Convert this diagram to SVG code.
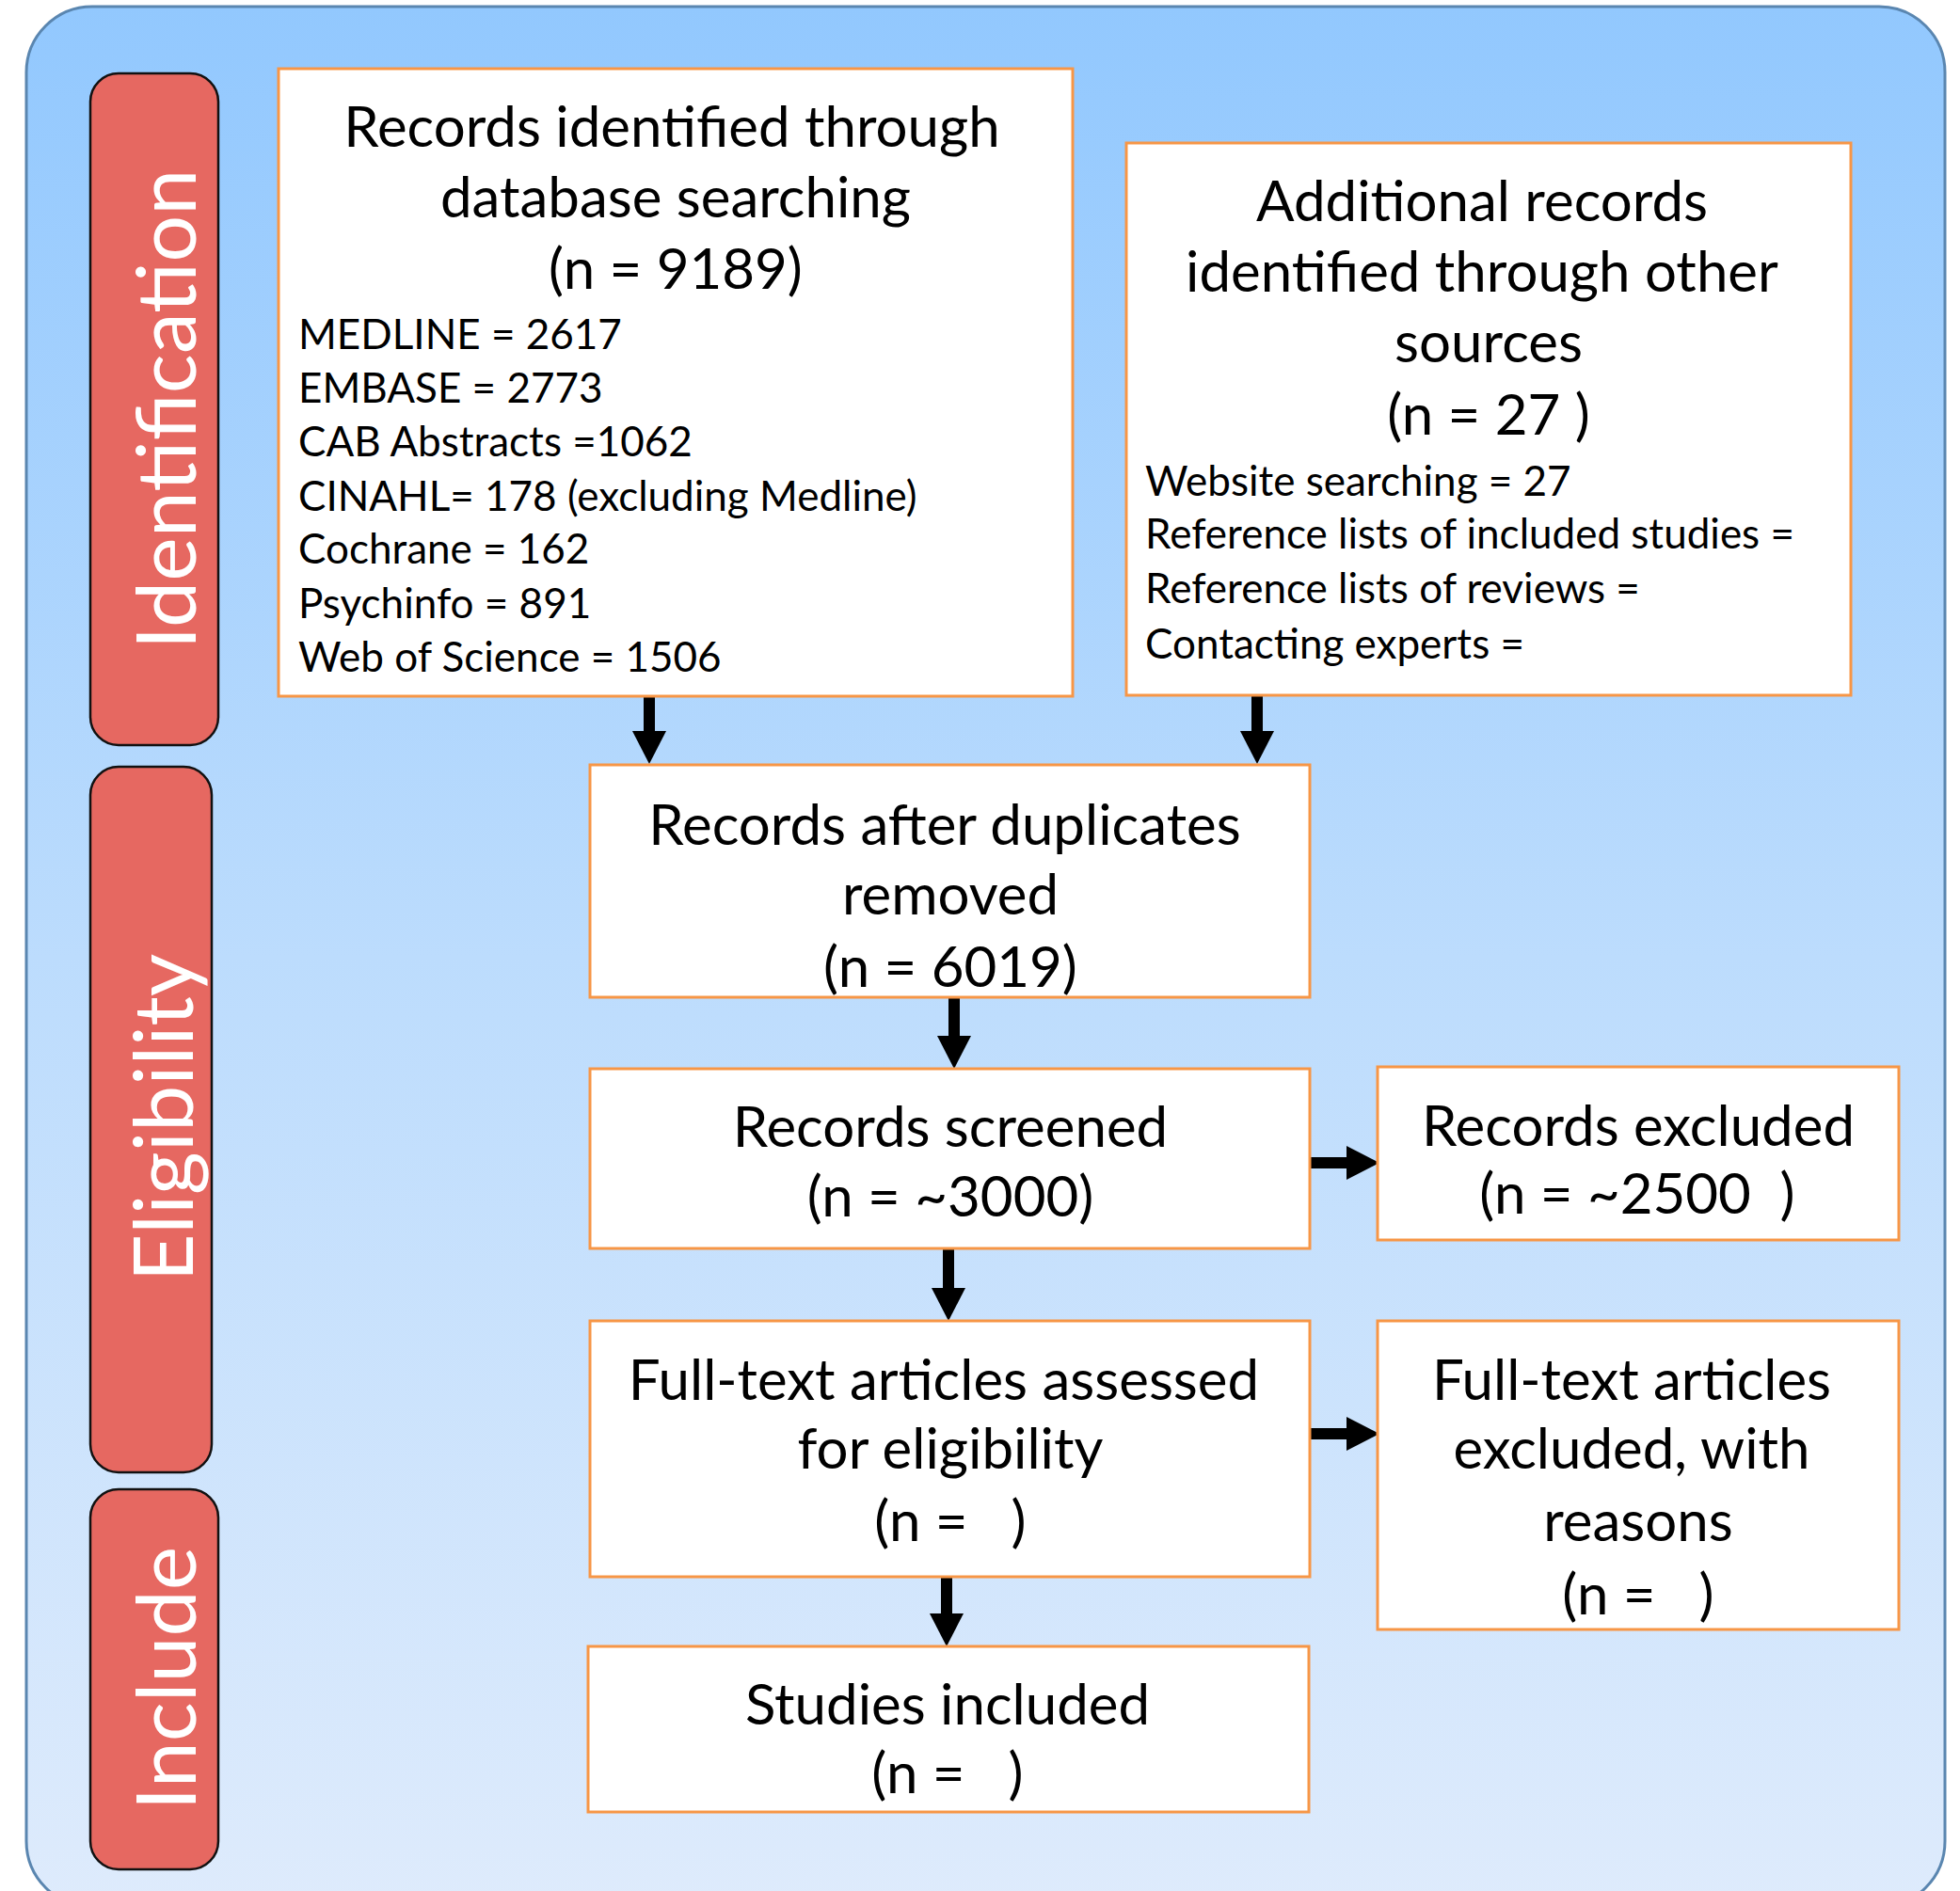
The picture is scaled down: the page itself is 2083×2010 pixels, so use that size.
<svg xmlns="http://www.w3.org/2000/svg" width="2083" height="2010" viewBox="0 0 2083 2010">
<style>
.bg{fill:url(#bgGrad);stroke:#5a86b0;stroke-width:3}
.tab{fill:#e66861;stroke:#111;stroke-width:2.5}
.tabt{font-family:Lato,"Liberation Sans",sans-serif;font-size:88px;fill:#ffffff}
.box{fill:#ffffff;stroke:#f79646;stroke-width:3}
.t{font-family:Lato,"Liberation Sans",sans-serif;font-size:60px;fill:#000;text-anchor:middle}
.s{font-family:Lato,"Liberation Sans",sans-serif;font-size:44px;fill:#000}
.arr{stroke:#000;stroke-width:12;fill:none;marker-end:url(#head)}
</style>
<defs>
<linearGradient id="bgGrad" x1="0" y1="0" x2="0" y2="1">
<stop offset="0" stop-color="#92c8fe"/>
<stop offset="0.5" stop-color="#bcdcfd"/>
<stop offset="1" stop-color="#deebfc"/>
</linearGradient>
<marker id="head" markerUnits="userSpaceOnUse" markerWidth="36" markerHeight="36" refX="0" refY="18" orient="auto">
<path d="M0,0 L35,18 L0,36 z" fill="#000"/>
</marker>
</defs>
<rect class="bg" x="28" y="7" width="2039" height="2020" rx="70" ry="70"/>

<g id="tab-identification">
<rect class="tab" x="96" y="78" width="136" height="714" rx="30" ry="30"/>
<text class="tabt" transform="translate(208,435) rotate(-90)" text-anchor="middle">Identification</text>
</g>
<g id="tab-eligibility">
<rect class="tab" x="96" y="815" width="129" height="750" rx="30" ry="30"/>
<text class="tabt" transform="translate(205,1188) rotate(-90)" text-anchor="middle">Eligibility</text>
</g>
<g id="tab-include">
<rect class="tab" x="96" y="1583" width="136" height="404" rx="30" ry="30"/>
<text class="tabt" transform="translate(208,1784) rotate(-90)" text-anchor="middle">Include</text>
</g>

<g id="connectors">
<line class="arr" x1="690" y1="740" x2="690" y2="777"/>
<line class="arr" x1="1336" y1="739" x2="1336" y2="777"/>
<line class="arr" x1="1014" y1="1060" x2="1014" y2="1101"/>
<line class="arr" x1="1008" y1="1327" x2="1008" y2="1369"/>
<line class="arr" x1="1006" y1="1676" x2="1006" y2="1715"/>
<line class="arr" x1="1392" y1="1236" x2="1431" y2="1236"/>
<line class="arr" x1="1392" y1="1524" x2="1431" y2="1524"/>
</g>

<g id="box-database">
<rect class="box" x="296" y="73" width="844" height="667"/>
<text class="t" x="714" y="156">Records identified through</text>
<text class="t" x="718" y="231">database searching</text>
<text class="t" x="718" y="307">(n = 9189)</text>
<text class="s" x="317" y="371">MEDLINE = 2617</text>
<text class="s" x="317" y="428">EMBASE = 2773</text>
<text class="s" x="317" y="485">CAB Abstracts =1062</text>
<text class="s" x="317" y="543">CINAHL= 178 (excluding Medline)</text>
<text class="s" x="317" y="599">Cochrane = 162</text>
<text class="s" x="317" y="657">Psychinfo = 891</text>
<text class="s" x="317" y="714">Web of Science = 1506</text>
</g>

<g id="box-other">
<rect class="box" x="1197" y="152" width="770" height="587"/>
<text class="t" x="1575" y="235">Additional records</text>
<text class="t" x="1575" y="310">identified through other</text>
<text class="t" x="1582" y="385">sources</text>
<text class="t" x="1582" y="462" xml:space="preserve">(n = 27 )</text>
<text class="s" x="1217" y="527">Website searching = 27</text>
<text class="s" x="1217" y="583">Reference lists of included studies =</text>
<text class="s" x="1217" y="641">Reference lists of reviews =</text>
<text class="s" x="1217" y="700">Contacting experts =</text>
</g>

<g id="box-duplicates">
<rect class="box" x="627" y="813" width="765" height="247"/>
<text class="t" x="1004" y="898">Records after duplicates</text>
<text class="t" x="1010" y="972">removed</text>
<text class="t" x="1010" y="1049">(n = 6019)</text>
</g>

<g id="box-screened">
<rect class="box" x="627" y="1136" width="765" height="191"/>
<text class="t" x="1010" y="1219">Records screened</text>
<text class="t" x="1010" y="1293">(n = ~3000)</text>
</g>

<g id="box-excluded">
<rect class="box" x="1464" y="1134" width="554" height="184"/>
<text class="t" x="1741" y="1218">Records excluded</text>
<text class="t" x="1740" y="1290" xml:space="preserve">(n = ~2500  )</text>
</g>

<g id="box-fulltext">
<rect class="box" x="627" y="1404" width="765" height="272"/>
<text class="t" x="1003" y="1488">Full-text articles assessed</text>
<text class="t" x="1010" y="1561">for eligibility</text>
<text class="t" x="1010" y="1638" xml:space="preserve">(n =   )</text>
</g>

<g id="box-fulltext-excluded">
<rect class="box" x="1464" y="1404" width="554" height="328"/>
<text class="t" x="1734" y="1488">Full-text articles</text>
<text class="t" x="1734" y="1561">excluded, with</text>
<text class="t" x="1741" y="1638">reasons</text>
<text class="t" x="1741" y="1716" xml:space="preserve">(n =   )</text>
</g>

<g id="box-included">
<rect class="box" x="625" y="1750" width="766" height="176"/>
<text class="t" x="1007" y="1833">Studies included</text>
<text class="t" x="1007" y="1906" xml:space="preserve">(n =   )</text>
</g>
</svg>
